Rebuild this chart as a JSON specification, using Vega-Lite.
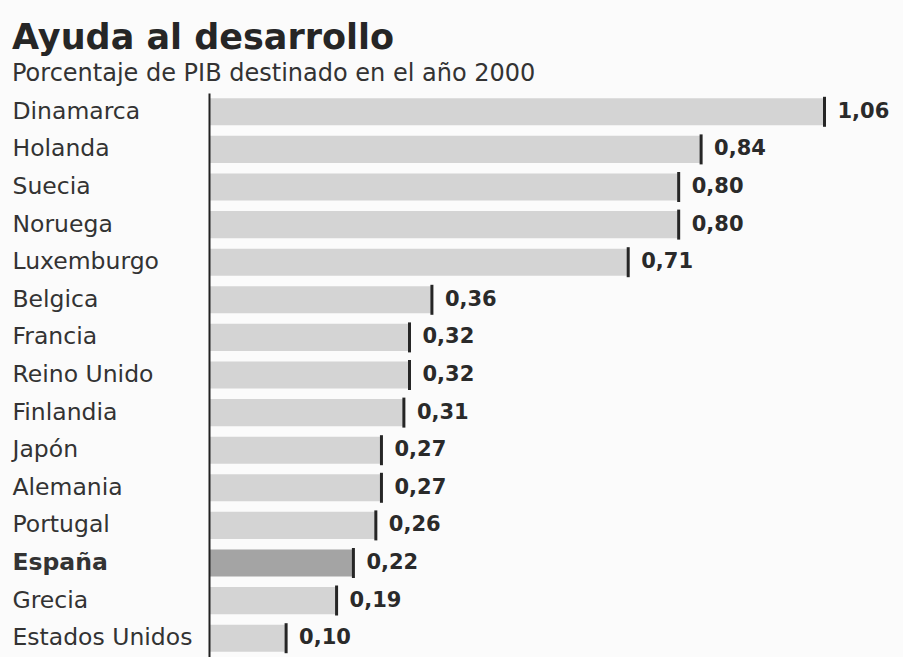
{
  "$schema": "https://vega.github.io/schema/vega-lite/v6.json",
  "width": 694,
  "height": 564,
  "padding": {"top": 21, "left": 12, "right": 0, "bottom": 0},
  "background": "#fbfbfb",
  "title": {
    "text": "Ayuda al desarrollo",
    "subtitle": "Porcentaje de PIB destinado en el año 2000",
    "anchor": "start",
    "frame": "bounds",
    "font": "DejaVu Sans",
    "fontSize": 35,
    "fontWeight": "bold",
    "color": "#262626",
    "subtitleFont": "DejaVu Sans",
    "subtitleFontSize": 24,
    "subtitleColor": "#333333",
    "subtitlePadding": 6,
    "offset": 7
  },
  "data": {
    "values": [
      {"pais": "Dinamarca", "valor": 1.06},
      {"pais": "Holanda", "valor": 0.84},
      {"pais": "Suecia", "valor": 0.80},
      {"pais": "Noruega", "valor": 0.80},
      {"pais": "Luxemburgo", "valor": 0.71},
      {"pais": "Belgica", "valor": 0.36},
      {"pais": "Francia", "valor": 0.32},
      {"pais": "Reino Unido", "valor": 0.32},
      {"pais": "Finlandia", "valor": 0.31},
      {"pais": "Japón", "valor": 0.27},
      {"pais": "Alemania", "valor": 0.27},
      {"pais": "Portugal", "valor": 0.26},
      {"pais": "España", "valor": 0.22},
      {"pais": "Grecia", "valor": 0.19},
      {"pais": "Estados Unidos", "valor": 0.10}
    ]
  },
  "encoding": {
    "y": {
      "field": "pais",
      "type": "nominal",
      "sort": null,
      "scale": {"paddingInner": 0.28, "paddingOuter": 0.14},
      "axis": {
        "title": null,
        "ticks": false,
        "grid": false,
        "domain": true,
        "domainColor": "#222222",
        "domainWidth": 2,
        "zindex": 1,
        "labelAlign": "left",
        "labelPadding": 197,
        "labelFont": "DejaVu Sans",
        "labelFontSize": 23.5,
        "labelColor": "#333333",
        "labelFontWeight": {"condition": {"test": "datum.value === 'España'", "value": "bold"}, "value": "normal"}
      }
    }
  },
  "layer": [
    {
      "mark": {"type": "bar"},
      "encoding": {
        "x": {
          "field": "valor",
          "type": "quantitative",
          "scale": {"domain": [-0.0375, 1.2], "nice": false, "zero": false},
          "axis": null
        },
        "x2": {"datum": -0.0375},
        "color": {
          "condition": {"test": "datum.pais === 'España'", "value": "#a4a4a4"},
          "value": "#d4d4d4"
        }
      }
    },
    {
      "mark": {"type": "tick", "orient": "vertical", "thickness": 3, "size": 30, "color": "#262626", "opacity": 1},
      "encoding": {
        "x": {"field": "valor", "type": "quantitative"}
      }
    },
    {
      "mark": {"type": "text", "align": "left", "baseline": "middle", "dx": 13, "font": "DejaVu Sans", "fontSize": 21, "fontWeight": "bold", "color": "#2a2a2a"},
      "encoding": {
        "x": {"field": "valor", "type": "quantitative"},
        "text": {"field": "valor", "type": "quantitative", "format": ".2f"}
      }
    }
  ],
  "config": {
    "view": {"stroke": null},
    "locale": {"number": {"decimal": ",", "thousands": ".", "grouping": [3], "currency": ["", " €"]}}
  }
}
